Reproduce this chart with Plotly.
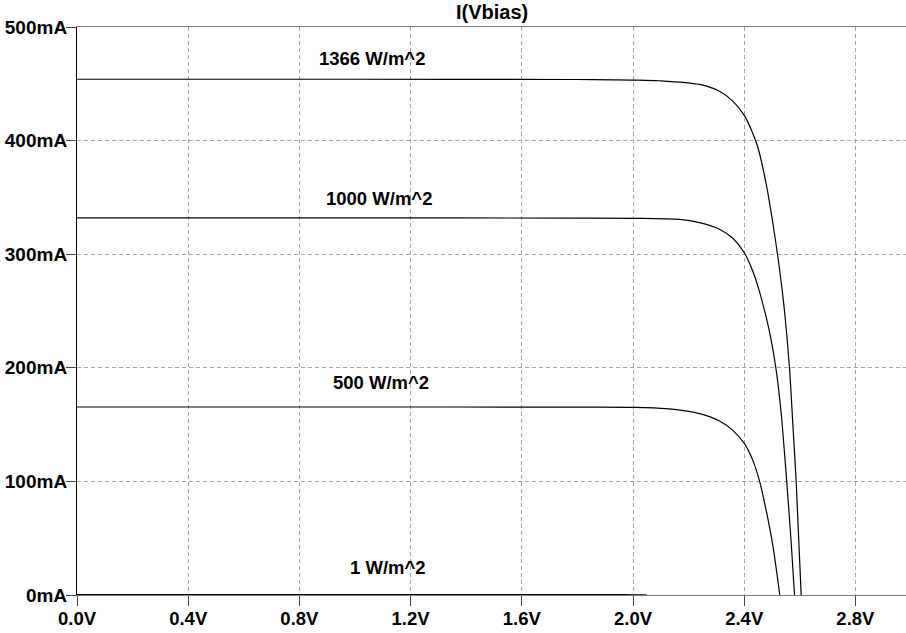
import plotly.graph_objects as go

# Solar-array I-V sweep: current through Vbias vs. bias voltage, per irradiance
v_1366 = [0.0, 1.0, 1.8, 2.002, 2.095, 2.239, 2.311, 2.358, 2.401, 2.430, 2.448,
          2.479, 2.502, 2.527, 2.545, 2.563, 2.575, 2.587, 2.605]
i_1366 = [454.0, 454.0, 453.8, 453.3, 452.7, 449.5, 443.5, 435.0, 422.0, 407.0, 395.0,
          362.0, 329.0, 287.0, 250.0, 199.6, 150.0, 99.4, 0.0]

v_1000 = [0.0, 1.0, 1.8, 2.002, 2.167, 2.239, 2.311, 2.359, 2.401, 2.431, 2.455,
          2.489, 2.515, 2.533, 2.551, 2.569, 2.581]
i_1000 = [332.0, 332.0, 331.8, 331.6, 330.6, 327.8, 322.0, 314.0, 301.0, 285.0, 267.0,
          234.0, 198.0, 160.0, 106.0, 46.0, 0.0]

v_500 = [0.0, 1.0, 1.8, 2.001, 2.119, 2.239, 2.311, 2.359, 2.401, 2.431, 2.455,
         2.479, 2.503, 2.528]
i_500 = [165.5, 165.5, 165.4, 165.2, 164.0, 159.6, 153.1, 144.9, 133.2, 118.5, 100.4,
         74.4, 43.5, 0.0]

v_1 = [0.0, 1.0, 1.8, 1.95, 2.0, 2.03, 2.05]
i_1 = [0.33, 0.33, 0.33, 0.30, 0.22, 0.10, 0.0]

curve_names = ["1366 W/m^2", "1000 W/m^2", "500 W/m^2", "1 W/m^2"]
label_v = [1.062, 1.086, 1.095, 1.117]
label_i = [472.4, 348.6, 186.8, 23.8]

x_ticks = [0.0, 0.4, 0.8, 1.2, 1.6, 2.0, 2.4, 2.8]
x_tick_text = ["0.0V", "0.4V", "0.8V", "1.2V", "1.6V", "2.0V", "2.4V", "2.8V"]
y_ticks = [0, 100, 200, 300, 400, 500]
y_tick_text = ["0mA", "100mA", "200mA", "300mA", "400mA", "500mA"]

FONT = "Arial, 'Liberation Sans', sans-serif"
GRID = "#a6a6a6"
FRAME = "#7a7a7a"

fig = go.Figure()
for vs, cs, nm in [(v_1366, i_1366, curve_names[0]), (v_1000, i_1000, curve_names[1]),
                   (v_500, i_500, curve_names[2]), (v_1, i_1, curve_names[3])]:
    fig.add_trace(go.Scatter(
        x=vs, y=cs, mode="lines", name=nm,
        line=dict(color="black", width=1.2, shape="spline", smoothing=0.8),
        hoverinfo="skip",
    ))

for nm, lv, li in zip(curve_names, label_v, label_i):
    fig.add_annotation(x=lv, y=li, text=nm, showarrow=False,
                       xanchor="center", yanchor="middle",
                       font=dict(family=FONT, size=18.5, color="black", weight="bold"))

fig.add_annotation(x=0.5, xref="paper", y=1.027, yref="paper", text="I(Vbias)",
                   showarrow=False, xanchor="center", yanchor="middle",
                   font=dict(family=FONT, size=20, color="black", weight="bold"))

fig.update_xaxes(
    range=[0, 2.982], tickvals=x_ticks, ticktext=x_tick_text,
    showgrid=True, gridcolor=GRID, griddash="4px,3px", gridwidth=1,
    zeroline=False, showline=True, linecolor=FRAME, linewidth=1.2, mirror=True,
    ticks="outside", ticklen=10, tickcolor="#444444", tickwidth=1,
    ticklabelstandoff=-3,
    tickfont=dict(family=FONT, size=18.5, color="black", weight="bold"),
)
fig.update_yaxes(
    range=[0, 500], tickvals=y_ticks, ticktext=y_tick_text,
    showgrid=True, gridcolor=GRID, griddash="4px,3px", gridwidth=1,
    zeroline=False, showline=True, linecolor="black", linewidth=1.2,
    ticks="outside", ticklen=10, tickcolor="#444444", tickwidth=1,
    ticklabelstandoff=-5,
    tickfont=dict(family=FONT, size=19, color="black", weight="bold"),
)

fig.update_layout(
    width=906, height=633,
    margin=dict(l=77, r=0, t=27, b=38),
    plot_bgcolor="white", paper_bgcolor="white",
    showlegend=False,
)

fig.write_html("out.html")
